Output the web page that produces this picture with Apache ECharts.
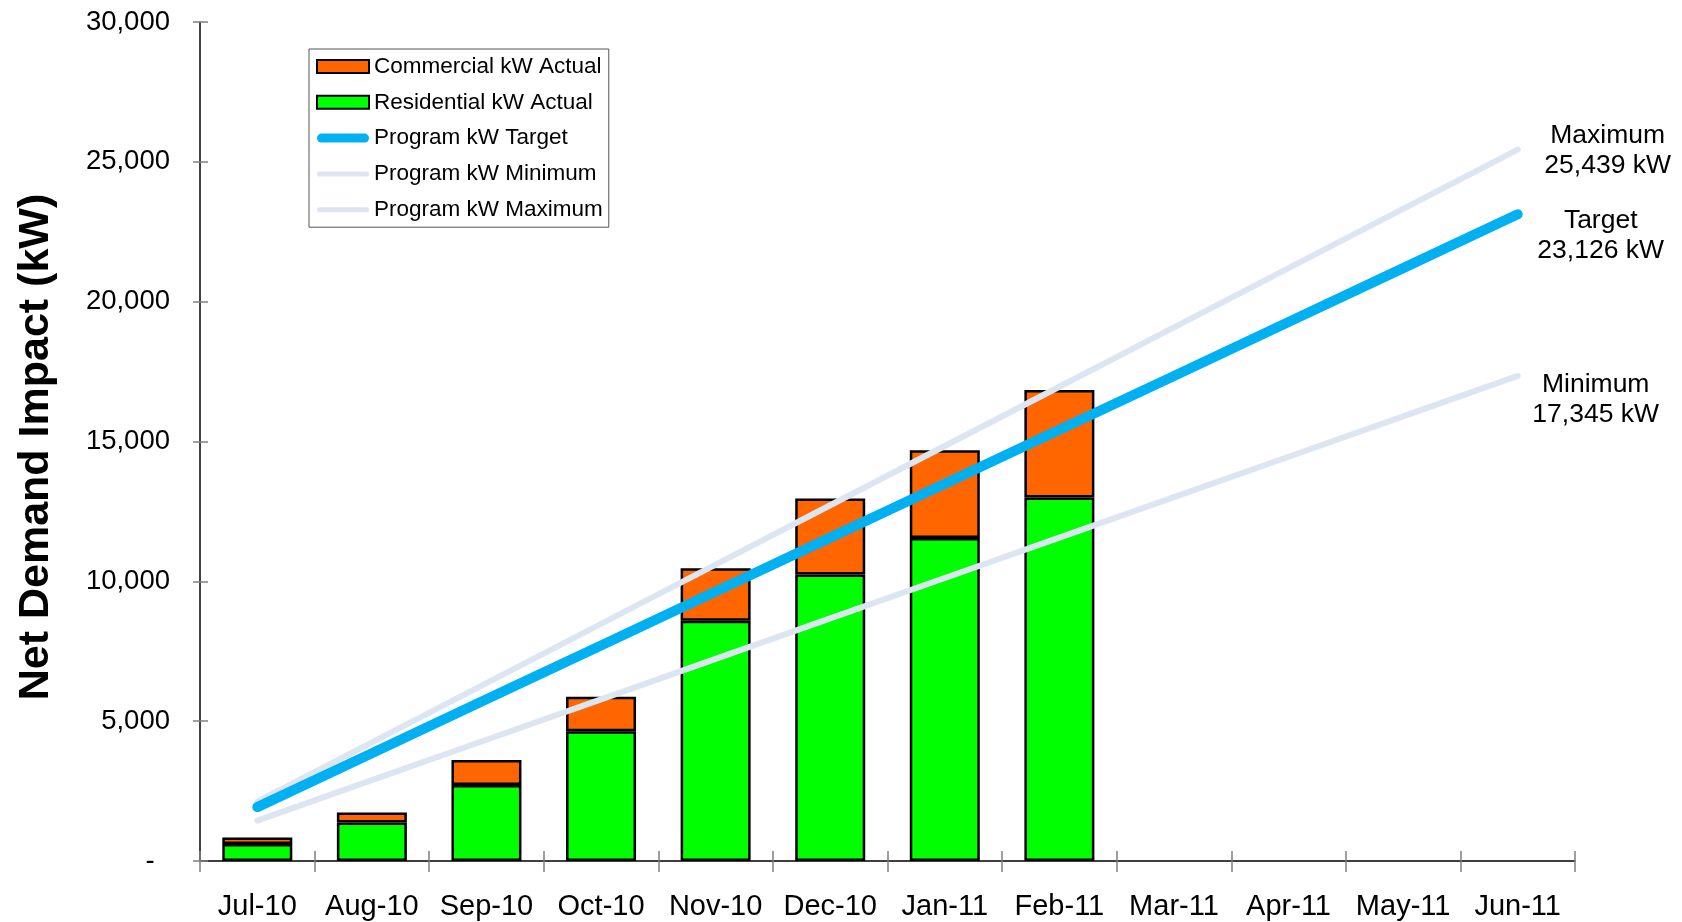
<!DOCTYPE html>
<html>
<head>
<meta charset="utf-8">
<script src="https://cdn.jsdelivr.net/npm/echarts@6/dist/echarts.min.js"></script>
<style>
  html, body { margin: 0; padding: 0; background: #fff; }
  #chart { width: 1682px; height: 922px; }
</style>
</head>
<body>
<div id="chart"></div>
<script>
const months = ['Jul-10', 'Aug-10', 'Sep-10', 'Oct-10', 'Nov-10', 'Dec-10',
  'Jan-11', 'Feb-11', 'Mar-11', 'Apr-11', 'May-11', 'Jun-11'];
const residentialKw = [610, 1380, 2720, 4640, 8590, 10240, 11550, 13000];
const commercialKw = [230, 350, 890, 1230, 1880, 2720, 3140, 3840];
const targetKw = [1927, 3854, 5782, 7709, 9636, 11563, 13490, 15417, 17345, 19272, 21199, 23126];
const minimumKw = [1445, 2891, 4336, 5782, 7227, 8673, 10118, 11563, 13009, 14454, 15900, 17345];
const maximumKw = [2120, 4240, 6360, 8480, 10600, 12720, 14840, 16959, 19079, 21199, 23319, 25439];
const yTicks = [0, 5000, 10000, 15000, 20000, 25000, 30000];

const font = 'Liberation Sans, Arial, sans-serif';
const fmt = (v) => v.toLocaleString('en-US');
const last = months.length - 1;

// legend icons: wide rounded bars instead of the default line + dot
const thickLine = 'path://M4.5,0 H47.5 A4.5,4.5 0 0 1 47.5,9 H4.5 A4.5,4.5 0 0 1 4.5,0 Z';
const thinLine = 'path://M2.5,0 H49.5 A2.5,2.5 0 0 1 49.5,5 H2.5 A2.5,2.5 0 0 1 2.5,0 Z';

function endMark(title, values, dx, dy) {
  return {
    symbol: 'circle',
    symbolSize: 0,
    silent: true,
    data: [{ coord: [months[last], values[last]] }],
    label: {
      show: true,
      position: 'inside',
      align: 'center',
      verticalAlign: 'middle',
      offset: [dx, dy],
      formatter: title + '\n' + fmt(values[last]) + ' kW',
      fontFamily: font,
      fontSize: 26.5,
      lineHeight: 30,
      color: '#000',
    },
  };
}

const chart = echarts.init(document.getElementById('chart'));
chart.setOption({
  animation: false,
  backgroundColor: '#fff',
  grid: { left: 200, right: 107, top: 22, bottom: 61 },
  legend: {
    data: [
      { name: 'Commercial kW Actual', icon: 'rect' },
      { name: 'Residential kW Actual', icon: 'rect' },
      { name: 'Program kW Target', icon: thickLine },
      { name: 'Program kW Minimum', icon: thinLine },
      { name: 'Program kW Maximum', icon: thinLine },
    ],
    orient: 'vertical',
    left: 309,
    top: 49,
    padding: [6, 6, 6, 7],
    itemGap: 12.8,
    itemWidth: 52,
    itemHeight: 13,
    borderColor: '#555',
    borderWidth: 1,
    textStyle: { fontFamily: font, fontSize: 22.5, color: '#000' },
  },
  xAxis: [
    {
      type: 'category',
      data: months,
      axisLine: { lineStyle: { color: '#000', width: 1.5 } },
      axisTick: { show: true, interval: 0, length: 11, lineStyle: { color: '#808080', width: 1.5 } },
      axisLabel: { fontFamily: font, fontSize: 29, color: '#000', margin: 31, interval: 0 },
    },
    {
      type: 'category',
      data: months,
      position: 'bottom',
      axisLine: { show: false },
      axisTick: { show: true, interval: 0, inside: true, length: 10, lineStyle: { color: '#808080', width: 1.5 } },
      axisLabel: { show: false },
    },
  ],
  yAxis: [
    {
      type: 'value',
      min: yTicks[0],
      max: yTicks[yTicks.length - 1],
      interval: 5000,
      name: 'Net Demand Impact (kW)',
      nameLocation: 'middle',
      nameGap: 142,
      nameTextStyle: {
        fontFamily: font, fontSize: 43, fontWeight: 'bold', color: '#000',
        padding: [0, 11, 0, 0],
      },
      axisLine: { show: true, lineStyle: { color: '#000', width: 1.5 } },
      axisTick: { show: true, length: 7, lineStyle: { color: '#808080', width: 1.5 } },
      axisLabel: {
        fontFamily: font, fontSize: 27.5, color: '#000', margin: 30,
        formatter: (v) => (v === 0 ? '-  ' : fmt(v)),
      },
      splitLine: { show: false },
    },
    {
      type: 'value',
      position: 'left',
      min: yTicks[0],
      max: yTicks[yTicks.length - 1],
      interval: 5000,
      axisLine: { show: false },
      axisTick: { show: true, inside: true, length: 8, lineStyle: { color: '#808080', width: 1.5 } },
      axisLabel: { show: false },
      splitLine: { show: false },
    },
  ],
  series: [
    {
      name: 'Residential kW Actual',
      type: 'bar',
      stack: 'actual',
      barWidth: 70,
      data: residentialKw,
      itemStyle: { color: '#00FF00', borderColor: '#000', borderWidth: 2.5 },
    },
    {
      name: 'Commercial kW Actual',
      type: 'bar',
      stack: 'actual',
      barWidth: 70,
      data: commercialKw,
      itemStyle: { color: '#FF6600', borderColor: '#000', borderWidth: 2.5 },
    },
    {
      name: 'Program kW Minimum',
      type: 'line',
      data: minimumKw,
      symbol: 'none',
      color: '#DCE6F2',
      itemStyle: { color: '#DCE6F2' },
      lineStyle: { color: '#DCE6F2', width: 6, cap: 'round' },
      markPoint: endMark('Minimum', minimumKw, 78, 24),
    },
    {
      name: 'Program kW Maximum',
      type: 'line',
      data: maximumKw,
      symbol: 'none',
      color: '#DCE6F2',
      itemStyle: { color: '#DCE6F2' },
      lineStyle: { color: '#DCE6F2', width: 6, cap: 'round' },
      markPoint: endMark('Maximum', maximumKw, 90, 1),
    },
    {
      name: 'Program kW Target',
      type: 'line',
      data: targetKw,
      symbol: 'none',
      color: '#00B0F0',
      itemStyle: { color: '#00B0F0' },
      lineStyle: { color: '#00B0F0', width: 10, cap: 'round' },
      markPoint: endMark('Target', targetKw, 83, 21),
    },
  ],
});
</script>
</body>
</html>
